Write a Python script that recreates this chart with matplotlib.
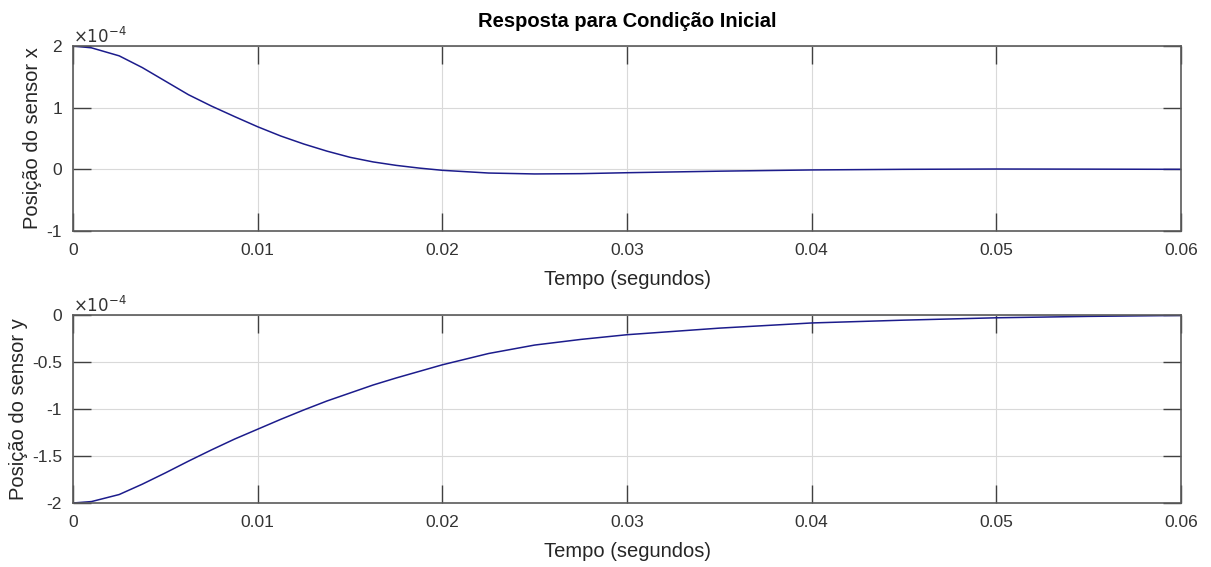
import numpy as np
from matplotlib import pyplot as plt
from matplotlib.ticker import FuncFormatter

plt.rcParams['font.family'] = ['Liberation Sans', 'DejaVu Sans']
plt.rcParams['axes.unicode_minus'] = False

# Resposta a condicao inicial (valores em unidades de 1e-4)
t = [0, 0.001, 0.0025, 0.00375, 0.005, 0.00625, 0.0075, 0.00875, 0.01, 0.01125,
     0.0125, 0.01375, 0.015, 0.01625, 0.0175, 0.01875, 0.02, 0.0225, 0.025, 0.0275,
     0.03, 0.035, 0.04, 0.045, 0.05, 0.055, 0.06]
pos_x = [2.0, 1.97, 1.84, 1.65, 1.43, 1.21, 1.025, 0.855, 0.69, 0.54,
         0.41, 0.295, 0.195, 0.12, 0.064, 0.02, -0.016, -0.06, -0.075, -0.07,
         -0.055, -0.03, -0.01, 0.0, 0.005, 0.003, 0.0]
pos_y = [-2.0, -1.985, -1.91, -1.80, -1.68, -1.555, -1.435, -1.32, -1.215, -1.11,
         -1.01, -0.915, -0.83, -0.745, -0.67, -0.60, -0.53, -0.41, -0.32, -0.26,
         -0.21, -0.14, -0.085, -0.055, -0.03, -0.015, -0.005]

xticks = [0, 0.01, 0.02, 0.03, 0.04, 0.05, 0.06]
yticks_x = [-1, 0, 1, 2]
yticks_y = [-2, -1.5, -1, -0.5, 0]

cor = '#1c1c8c'
fmt = FuncFormatter(lambda v, p: '%g' % round(v, 6))

fig = plt.figure(figsize=(12.11, 5.67), dpi=100)
ax1 = fig.add_axes([0.0603, 0.5926, 0.915, 0.3263])
ax2 = fig.add_axes([0.0603, 0.1129, 0.915, 0.3316])

for ax, y, yt, lab in [(ax1, pos_x, yticks_x, 'Posição do sensor x'),
                       (ax2, pos_y, yticks_y, 'Posição do sensor y')]:
    ax.plot(t, y, color=cor, linewidth=1.1)
    ax.set_xlim(0, 0.06)
    ax.set_ylim(yt[0], yt[-1])
    ax.set_xticks(xticks)
    ax.set_yticks(yt)
    ax.xaxis.set_major_formatter(fmt)
    ax.yaxis.set_major_formatter(fmt)
    ax.set_xlabel('Tempo (segundos)', fontsize=14.5, color='#262626', labelpad=8)
    ax.set_ylabel(lab, fontsize=14.5, color='#262626', labelpad=3)
    ax.tick_params(direction='in', length=13, width=1, colors='#404040',
                   labelsize=12.5, labelcolor='#333333', top=True, right=True)
    ax.tick_params(axis='x', pad=9)
    ax.tick_params(axis='y', pad=8)
    ax.grid(color='#d9d9d9', linewidth=0.8)
    for s in ax.spines.values():
        s.set_color('#5a5a5a')
        s.set_linewidth(1.2)
    ax.text(0.0, 1.0, r'$\times10^{-4}$', transform=ax.transAxes,
            fontsize=12, color='#333333', va='bottom', ha='left')

ax1.set_title('Resposta para Condição Inicial', fontsize=14.5, fontweight='bold', pad=14)

plt.savefig('out.png', dpi=100)
